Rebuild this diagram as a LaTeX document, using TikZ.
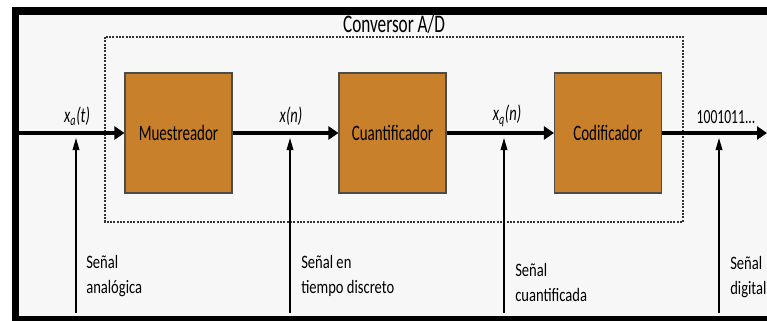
\documentclass[tikz,border=0pt]{standalone}
\usepackage{fontspec}
\newfontfamily\narrowfont[FakeStretch=0.77]{Carlito}
\newfontfamily\blockfont[FakeStretch=0.68]{Carlito}
\usetikzlibrary{arrows.meta}
\definecolor{bggray}{HTML}{F7F7F7}
\definecolor{blockorange}{HTML}{C8802A}

\tikzset{
  block/.style={draw=black!70, line width=0.8pt, fill=blockorange,
    minimum width=80.25pt, minimum height=90pt, inner sep=0pt,
    font=\blockfont\fontsize{16.5}{18}\selectfont},
  signal/.style={line width=3pt, -{Triangle[length=7.5pt,width=9.75pt]}},
  probe/.style={line width=0.9pt, -{Triangle[length=9pt,width=5pt]}},
  siglabel/.style={inner sep=0pt, font=\blockfont\fontsize{16}{18}\selectfont},
  note/.style={anchor=north west, align=left, inner sep=0pt,
    font=\narrowfont\fontsize{14.2}{18.75}\selectfont}
}

\begin{document}
\begin{tikzpicture}[x=0.75pt,y=-0.75pt]

    \useasboundingbox (0,0) rectangle (767,321);

    % frame
    \fill[white] (0,0) rectangle (767,321);
    \fill[black] (11.5,7.5) rectangle (767,321);
    \fill[bggray] (18.5,15) rectangle (767,316);

    % converter outline
    \draw[line width=0.8pt, dash pattern=on 1.5pt off 1pt, black!80] (105,37) rectangle (683,222);
    \node[font=\blockfont\fontsize{19}{21}\selectfont] (conv) at (394,24) {Conversor A/D};

    % blocks
    \node[block] (mues) at (178.5,133) {Muestreador};
    \node[block] (cuan) at (392.5,133) {Cuantificador};
    \node[block] (codi) at (608,133) {Codificador};

    % signal path
    \coordinate (in) at (18.5,133);
    \coordinate (out) at (767,133);
    \draw[signal] (in) -- (mues.west);
    \draw[signal] (mues.east) -- (cuan.west);
    \draw[signal] (cuan.east) -- (codi.west);
    \draw[signal] (codi.east) -- (out);

    % signal labels
    \node[siglabel] (xa) at (77,116) {\itshape x\textsubscript{a}(t)};
    \node[siglabel] (xn) at (291,116) {\itshape x(n)};
    \node[siglabel] (xq) at (507,116) {\itshape x\textsubscript{q}(n)};
    \node[siglabel,font=\blockfont\fontsize{15}{17}\selectfont] (bits) at (726,117) {1001011...};

    % probes
    \coordinate (pa0) at (76,313);   \coordinate (pa1) at (76,138);
    \coordinate (pb0) at (290,313);  \coordinate (pb1) at (290,138);
    \coordinate (pc0) at (504,313);  \coordinate (pc1) at (504,138);
    \coordinate (pd0) at (719,313);  \coordinate (pd1) at (719,138);
    \draw[probe] (pa0) -- (pa1);
    \draw[probe] (pb0) -- (pb1);
    \draw[probe] (pc0) -- (pc1);
    \draw[probe] (pd0) -- (pd1);

    % probe notes
    \node[note] (na) at (86,255) {Señal\\analógica};
    \node[note] (nb) at (301,255) {Señal en\\tiempo discreto};
    \node[note] (nc) at (515,263) {Señal\\cuantificada};
    \node[note] (nd) at (730,256) {Señal\\digital};
\end{tikzpicture}
\end{document}
